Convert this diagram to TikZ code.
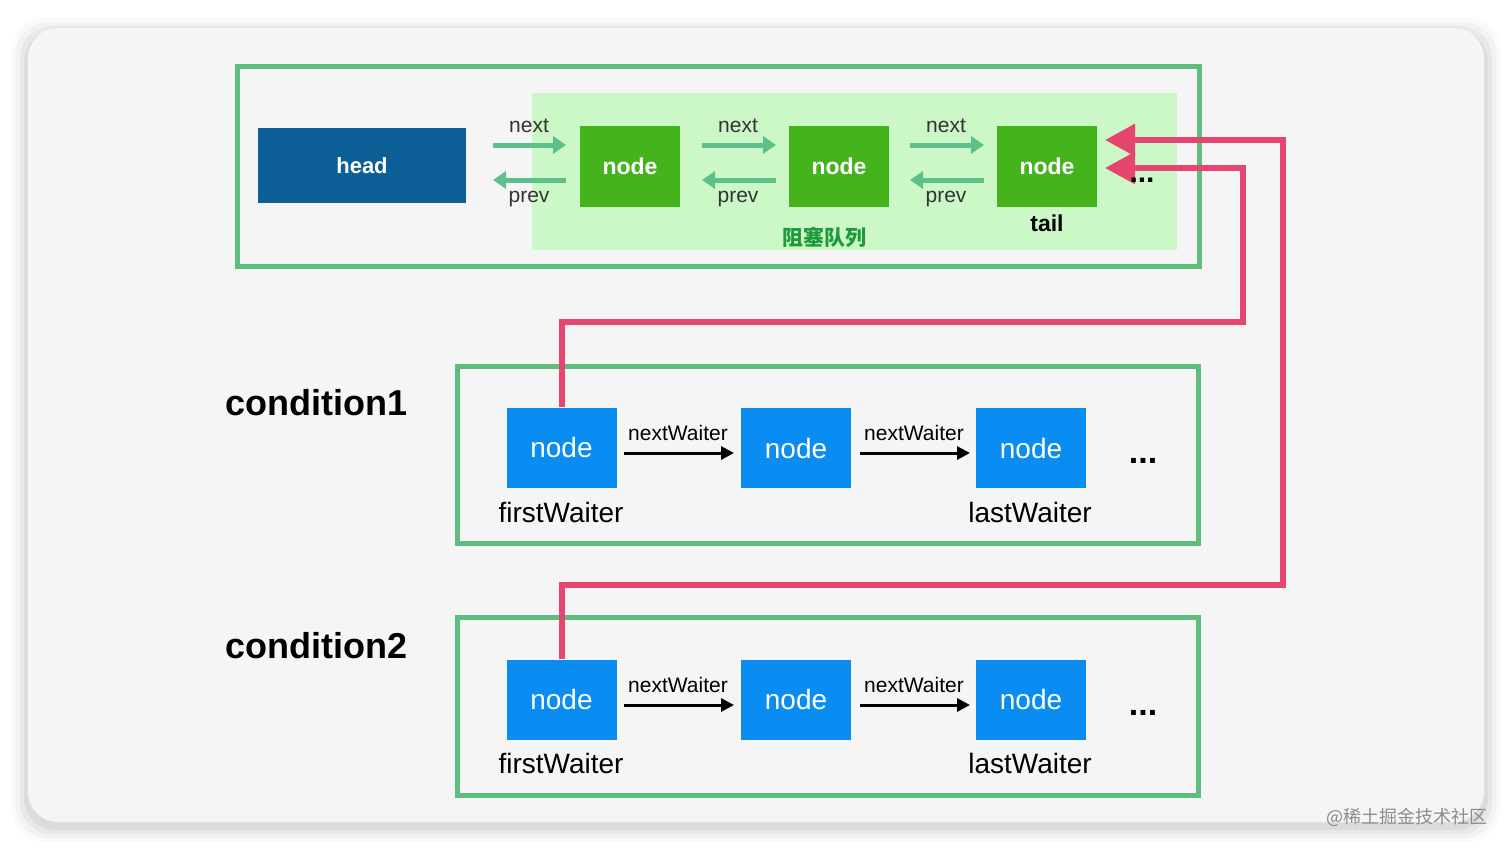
\documentclass[tikz,border=0pt]{standalone}
\usepackage{fontspec}
\setmainfont{Liberation Sans}
\newfontfamily\cjk{Noto Sans CJK SC}
\usetikzlibrary{arrows.meta}
\definecolor{cardbg}{HTML}{F5F5F5}
\definecolor{frameg}{HTML}{5DBE7E}
\definecolor{lightg}{HTML}{CCF8C8}
\definecolor{headblue}{HTML}{0B5E96}
\definecolor{nodegreen}{HTML}{45B31C}
\definecolor{nodeblue}{HTML}{0A8DF2}
\definecolor{pinkc}{HTML}{E5466F}
\definecolor{arrowg}{HTML}{5DC08A}
\definecolor{queueg}{HTML}{1E9A3C}
\definecolor{labelc}{HTML}{333333}
\tikzset{
  fs/.style={font=\fontsize{#1}{#1}\selectfont},
  fsb/.style={font=\fontsize{#1}{#1}\selectfont\bfseries},
  framebox/.style={draw=frameg,line width=5pt},
  gnode/.style={fill=nodegreen,minimum width=100pt,minimum height=81pt,inner sep=0pt,text=white,fsb=23},
  bnode/.style={fill=nodeblue,minimum width=110pt,minimum height=80pt,inner sep=0pt,text=white,fs=28},
  garrow/.style={draw=arrowg,line width=5pt,-{Triangle[length=13pt,width=17pt]}},
  karrow/.style={draw=black,line width=3pt,-{Triangle[length=13pt,width=13pt]}},
  parrow/.style={draw=pinkc,line width=6pt,-{Triangle[length=30pt,width=31pt]}},
  lbl/.style={text=labelc,fs=21,inner sep=0pt},
  wlbl/.style={text=black,fs=28,inner sep=0pt},
  dotsn/.style={fsb=34,inner sep=0pt,anchor=base},
}
\begin{document}
\begin{tikzpicture}[x=1pt,y=-1pt]
\useasboundingbox (0,0) rectangle (1512,851);
\fill[white] (0,0) rectangle (1512,851);
% card shadow
\foreach \d/\o in {16/0.02,12/0.03,8/0.04,4/0.05}{
  \fill[black,opacity=\o,rounded corners=32pt] (28-\d,34-\d) rectangle (1484+\d,826+\d);
}
\fill[cardbg,rounded corners=30pt] (28,28) rectangle (1484,822);

% top frame
\draw[framebox] (237,67) rectangle (1199,266);
\fill[lightg] (532,93) rectangle (1177,250);

\node[fill=headblue,minimum width=208pt,minimum height=75pt,inner sep=0pt,text=white,fsb=22] (head) at (362,165.5) {head};
\node[gnode] (g1) at (630,166.5) {node};
\node[gnode] (g2) at (839,166.5) {node};
\node[gnode] (g3) at (1047,166.5) {node};

\coordinate (a1s) at (493,145); \coordinate (a1e) at (566,145);
\coordinate (b1s) at (566,180); \coordinate (b1e) at (493,180);
\coordinate (a2s) at (702,145); \coordinate (a2e) at (776,145);
\coordinate (b2s) at (776,180); \coordinate (b2e) at (702,180);
\coordinate (a3s) at (910,145); \coordinate (a3e) at (984,145);
\coordinate (b3s) at (984,180); \coordinate (b3e) at (910,180);
\draw[garrow] (a1s) -- (a1e);
\draw[garrow] (b1s) -- (b1e);
\draw[garrow] (a2s) -- (a2e);
\draw[garrow] (b2s) -- (b2e);
\draw[garrow] (a3s) -- (a3e);
\draw[garrow] (b3s) -- (b3e);
\node[lbl] (n1) at (529,126) {next};
\node[lbl] (p1l) at (529,199) {prev};
\node[lbl] (n2) at (738,126) {next};
\node[lbl] (p2l) at (738,199) {prev};
\node[lbl] (n3) at (946,126) {next};
\node[lbl] (p3l) at (946,199) {prev};

\node[text=queueg,font=\cjk\fontsize{21}{21}\selectfont\bfseries,inner sep=0pt] (queue) at (824,237) {阻塞队列};
\node[fsb=23,inner sep=0pt] (tail) at (1047,223) {tail};

% condition1
\node[fsb=36,inner sep=0pt] (cond1) at (316,403) {condition1};
\draw[framebox] (457,366) rectangle (1198,543);
\node[bnode] (c1a) at (561.5,447.5) {node};
\node[bnode] (c1b) at (796,448) {node};
\node[bnode] (c1c) at (1031,448) {node};
\node[wlbl] (fw1) at (561,512) {firstWaiter};
\node[wlbl] (lw1) at (1030,512) {lastWaiter};
\coordinate (k1s) at (624,453); \coordinate (k1e) at (734,453);
\coordinate (k2s) at (860,453); \coordinate (k2e) at (970,453);
\draw[karrow] (k1s) -- (k1e);
\draw[karrow] (k2s) -- (k2e);
\node[lbl,text=black] (nw1) at (678,433) {nextWaiter};
\node[lbl,text=black] (nw2) at (914,433) {nextWaiter};
\node[dotsn] (dots1) at (1143,463) {...};

% condition2
\node[fsb=36,inner sep=0pt] (cond2) at (316,646) {condition2};
\draw[framebox] (457,617) rectangle (1198,795);
\node[bnode] (c2a) at (561.5,699.5) {node};
\node[bnode] (c2b) at (796,699.5) {node};
\node[bnode] (c2c) at (1031,699.5) {node};
\node[wlbl] (fw2) at (561,763) {firstWaiter};
\node[wlbl] (lw2) at (1030,763) {lastWaiter};
\coordinate (k3s) at (624,705); \coordinate (k3e) at (734,705);
\coordinate (k4s) at (860,705); \coordinate (k4e) at (970,705);
\draw[karrow] (k3s) -- (k3e);
\draw[karrow] (k4s) -- (k4e);
\node[lbl,text=black] (nw3) at (678,685) {nextWaiter};
\node[lbl,text=black] (nw4) at (914,685) {nextWaiter};
\node[dotsn] (dots2) at (1143,715) {...};

% pink connectors
\coordinate (q1) at (1243,322);
\coordinate (t1) at (1105,168);
\coordinate (q2) at (1283,585);
\coordinate (t2) at (1105,140);
\draw[parrow] (c1a.north) |- (q1) |- (t1);
\draw[parrow] (c2a.north) |- (q2) |- (t2);

% dots in front of the arrowheads
\node[fsb=30,inner sep=0pt,anchor=base] (dots0) at (1142,182) {...};

% watermark
\node[text=black!45,font=\cjk\fontsize{18}{18}\selectfont,inner sep=0pt,anchor=east] (wm) at (1488,817) {@稀土掘金技术社区};
\end{tikzpicture}
\end{document}
